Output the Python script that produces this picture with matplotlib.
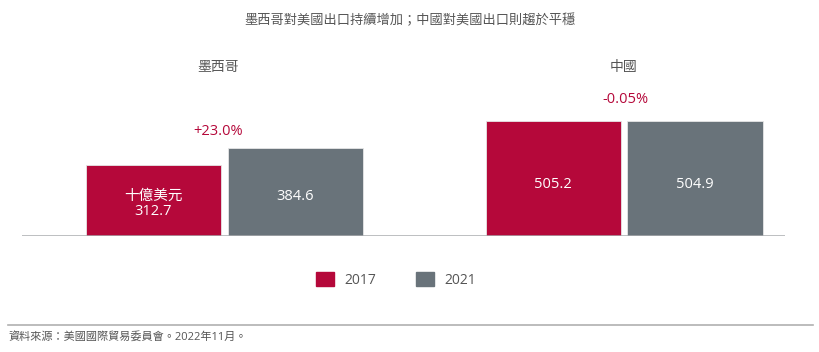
import matplotlib.pyplot as plt
from matplotlib.patches import Rectangle
from matplotlib.lines import Line2D

plt.rcParams['font.family'] = ['Open Sans', 'Noto Sans CJK TC', 'DejaVu Sans']

groups = ['墨西哥', '中國']
years = ['2017', '2021']
vals_2017 = [312.7, 505.2]
vals_2021 = [384.6, 504.9]
changes = ['+23.0%', '-0.05%']
unit = '十億美元'
title = '墨西哥對美國出口持續增加；中國對美國出口則趨於平穩'
source = '資料來源：美國國際貿易委員會。2022年11月。'

red = '#b5083a'
gray = '#69737a'
txt = '#555555'

W, H = 820, 352
fig = plt.figure(figsize=(W / 100, H / 100), dpi=100)
ax = fig.add_axes([22 / W, 116 / H, 763 / W, 196 / H])

w = 0.338
off = 0.1777
x = range(len(groups))
ax.bar([i - off for i in x], vals_2017, w, color=red, edgecolor='#e6e6e6', linewidth=0.6, zorder=2)
ax.bar([i + off for i in x], vals_2021, w, color=gray, edgecolor='#e6e6e6', linewidth=0.6, zorder=2)

# small nudges for the change labels (x in data units, y in points)
pct_dx = [-0.015, 0.004]
pct_dy = [6.5, 9.5]

for i in x:
    a, b = vals_2017[i], vals_2021[i]
    lab_a = f'{a:.1f}'
    if i == 0:
        lab_a = unit + '\n' + lab_a
    ax.text(i - off, a * 0.45, lab_a, color='white', ha='center', va='center',
            fontsize=10.5, linespacing=1.0)
    ax.text(i + off, b * 0.45, f'{b:.1f}', color='white', ha='center', va='center',
            fontsize=10.5)
    ax.annotate(changes[i], (i + pct_dx[i], max(a, b)), xytext=(0, pct_dy[i]),
                textcoords='offset points', ha='center', va='bottom', color=red, fontsize=10.5)

ax.set_xlim(-0.507, 1.403)
ax.set_ylim(0, 196 / 0.2285)
ax.axhline(0, color='#a9acae', lw=1.8, zorder=3)
ax.axis('off')

fig.text(0.5, 1 - 20 / H, title, ha='center', va='center', color=txt, fontsize=9.5)
for i, g in enumerate(groups):
    xp = (22 + (i + 0.507) * 399.5 - 6 + i * 6) / W
    fig.text(xp, 1 - 67 / H, g, ha='center', va='center', color=txt, fontsize=10)

# legend
handles = [Rectangle((0, 0), 1, 1, color=red), Rectangle((0, 0), 1, 1, color=gray)]
fig.legend(handles, years, loc='center', bbox_to_anchor=(396 / W, 1 - 280 / H), ncol=2,
           frameon=False, fontsize=10, labelcolor=txt, handlelength=1.3, handleheight=1.1,
           columnspacing=2.8, handletextpad=0.8)

fig.add_artist(Line2D([8 / W, 813 / W], [1 - 325 / H, 1 - 325 / H], color='#b0b0b0', lw=1.2))
fig.text(8 / W, 1 - 337 / H, source, ha='left', va='center', color=txt, fontsize=8)

fig.savefig('out.png', dpi=100)
